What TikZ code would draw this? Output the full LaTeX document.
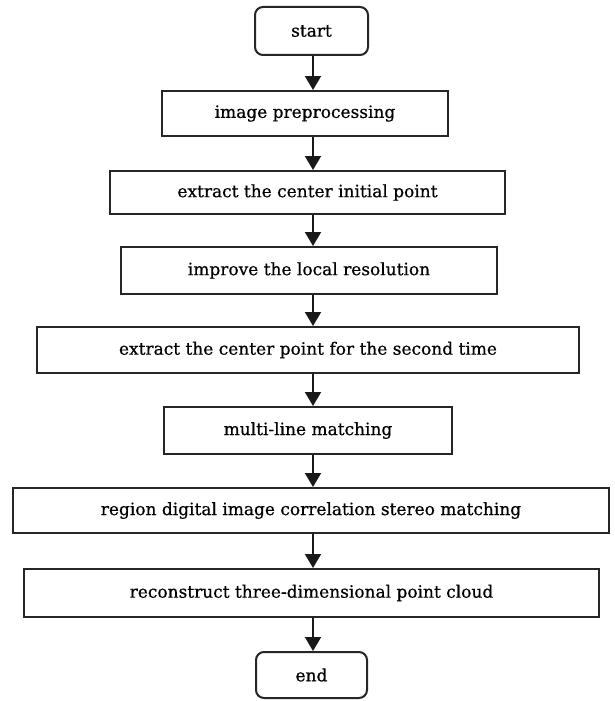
\documentclass[tikz,border=0pt]{standalone}
\usepackage{fontspec}
\setmainfont{DejaVu Serif}[FakeBold=0.6]
\usetikzlibrary{arrows.meta}
\begin{document}
\begin{tikzpicture}[x=1pt,y=-1pt,
  box/.style={draw=black!85, line width=2pt, fill=white, inner sep=0pt, align=center,
    font=\fontsize{17}{20}\selectfont},
  term/.style={box, rounded corners=8pt},
  flow/.style={draw=black!90, line width=2pt, -{Triangle[length=14pt,width=16pt]}}]
\useasboundingbox (0,0) rectangle (614,701);
\coordinate (ax) at (313,0);
\node[term, minimum width=113pt, minimum height=48pt] (start) at (311.5,31) {start};
\node[box, minimum width=286pt, minimum height=45pt] (pre) at (305,113.5) {image preprocessing};
\node[box, minimum width=395pt, minimum height=43pt] (init) at (307.5,192.5) {extract the center initial point};
\node[box, minimum width=376pt, minimum height=47pt] (impr) at (309,270.5) {improve the local resolution};
\node[box, minimum width=542pt, minimum height=46pt] (second) at (308,350) {extract the center point for the second time};
\node[box, minimum width=288pt, minimum height=47pt] (multi) at (308,430.5) {multi-line matching};
\node[box, minimum width=596pt, minimum height=45pt] (region) at (311,510.5) {region digital image correlation stereo matching};
\node[box, minimum width=575pt, minimum height=48pt] (recon) at (311.5,593) {reconstruct three-dimensional point cloud};
\node[term, minimum width=111pt, minimum height=46pt] (end) at (311.5,675) {end};
\foreach \a/\b in {start/pre,pre/init,init/impr,impr/second,second/multi,multi/region,region/recon,recon/end}
  \draw[flow] (\a.south -| ax) -- (\b.north -| ax);
\end{tikzpicture}
\end{document}
